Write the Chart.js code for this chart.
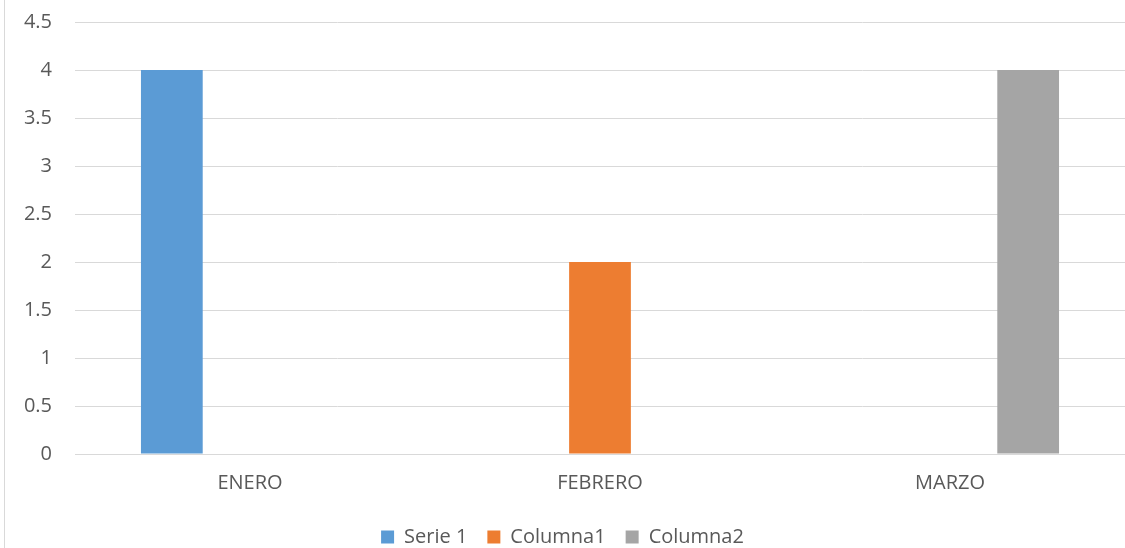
<!DOCTYPE html>
<html>
<head>
<meta charset="utf-8">
<script src="https://cdn.jsdelivr.net/npm/chart.js@4/dist/chart.umd.min.js"></script>
<style>
  html, body { margin: 0; padding: 0; background: #fff; }
  #wrap { width: 1125px; height: 548px; position: relative; }
</style>
</head>
<body>
<div id="wrap"><canvas id="chart"></canvas></div>
<script>
// datos del grafico
const meses = ['ENERO', 'FEBRERO', 'MARZO'];
const serie1 = [4, 0, 0];
const columna1 = [0, 2, 0];
const columna2 = [0, 0, 4];

const colores = ['#5B9BD5', '#ED7D31', '#A5A5A5'];
const gris = '#595959';
const rejilla = '#D9D9D9';

// linea fina del borde izquierdo, como en el grafico de Excel
const bordeIzq = {
	id: 'bordeIzq',
	beforeDraw(chart) {
		const ctx = chart.ctx;
		ctx.save();
		ctx.strokeStyle = rejilla;
		ctx.lineWidth = 1;
		ctx.beginPath();
		ctx.moveTo(4.5, 0);
		ctx.lineTo(4.5, chart.height);
		ctx.stroke();
		ctx.restore();
	}
};

Chart.defaults.font.family = '"Open Sans", sans-serif';
Chart.defaults.font.size = 20;
Chart.defaults.color = gris;

const chart = new Chart(document.getElementById('chart'), {
	type: 'bar',
	data: {
		labels: meses,
		datasets: [
			{ label: 'Serie 1', data: serie1, backgroundColor: colores[0] },
			{ label: 'Columna1', data: columna1, backgroundColor: colores[1] },
			{ label: 'Columna2', data: columna2, backgroundColor: colores[2] }
		]
	},
	options: {
		responsive: true,
		maintainAspectRatio: false,
		animation: false,
		categoryPercentage: 0.67,
		barPercentage: 0.79,
		layout: { padding: { top: 22, right: 0, left: 0, bottom: -9 } },
		plugins: {
			tooltip: { enabled: false },
			legend: {
				position: 'bottom',
				labels: {
					boxWidth: 13,
					boxHeight: 13,
					padding: 20,
					color: gris,
					font: { size: 20 }
				}
			}
		},
		scales: {
			x: {
				grid: { display: false, drawTicks: false },
				border: { color: rejilla },
				ticks: { padding: 17, color: gris },
				afterFit: s => { s.height = 53; }
			},
			y: {
				min: 0,
				max: 4.5,
				ticks: {
					stepSize: 0.5,
					padding: 23,
					color: gris,
					callback: v => String(v)
				},
				grid: { color: rejilla, drawTicks: false },
				border: { display: false },
				afterFit: s => {
					s.width = 75;
					s.paddingTop = 0;
					s.paddingBottom = 0;
				}
			}
		}
	},
	plugins: [bordeIzq]
});
</script>
</body>
</html>
